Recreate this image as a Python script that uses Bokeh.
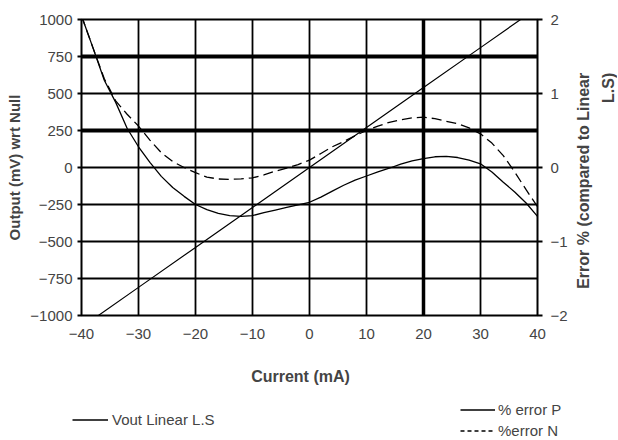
import math
from bokeh.plotting import figure
from bokeh.layouts import row, column
from bokeh.models import (Range1d, LinearAxis, FixedTicker, Span, Label, Legend, LegendItem)
from bokeh.embed import file_html
from bokeh.resources import INLINE

# ---- data ----
current_ma = [-40, -30, -20, -10, 0, 10, 20, 30, 40]
vout_mv = [-1080, -810, -540, -270, 0, 270, 540, 810, 1080]

err_x = [-40, -38, -36, -34, -32, -30, -28, -26, -24, -22, -20, -18, -16, -14, -12, -10,
         -8, -6, -4, -2, 0, 2, 4, 6, 8, 10, 12, 14, 16, 18, 20, 22, 24, 26, 28, 30,
         32, 34, 36, 38, 40]
err_p = [2.05, 1.62, 1.18, 0.88, 0.53, 0.28, 0.07, -0.12, -0.27, -0.39, -0.50, -0.57,
         -0.62, -0.65, -0.66, -0.65, -0.61, -0.575, -0.54, -0.505, -0.47, -0.40, -0.32,
         -0.24, -0.17, -0.115, -0.06, -0.01, 0.045, 0.09, 0.12, 0.145, 0.15, 0.135, 0.10,
         0.05, -0.06, -0.20, -0.33, -0.48, -0.66]
err_n = [2.05, 1.62, 1.20, 0.90, 0.72, 0.56, 0.37, 0.20, 0.08, 0.00, -0.07, -0.13,
         -0.155, -0.16, -0.155, -0.14, -0.10, -0.05, -0.01, 0.04, 0.10, 0.19, 0.28, 0.35,
         0.43, 0.50, 0.56, 0.61, 0.645, 0.67, 0.68, 0.66, 0.625, 0.59, 0.535, 0.455, 0.33,
         0.16, -0.06, -0.30, -0.53]

left_ticks = [-1000, -750, -500, -250, 0, 250, 500, 750, 1000]
bottom_ticks = [-40, -30, -20, -10, 0, 10, 20, 30, 40]
right_ticks = [-2, -1, 0, 1, 2]
thick_h = [750, 250]
thick_v = [20]

FONT = "Liberation Sans"
TICK_FS = "15px"

# ---------------- main chart ----------------
p = figure(width=570, height=350, x_range=Range1d(-40, 40), y_range=Range1d(-1000, 1000),
           output_backend="svg", toolbar_location=None, title=None,
           min_border_left=81, min_border_right=31, min_border_top=19, min_border_bottom=35)
p.extra_y_ranges = {"err": Range1d(-2, 2)}
p.background_fill_color = "white"
p.border_fill_color = "white"
p.outline_line_color = "black"
p.outline_line_width = 2

p.xaxis.ticker = FixedTicker(ticks=bottom_ticks)
p.yaxis.ticker = FixedTicker(ticks=left_ticks)
p.xgrid.grid_line_color = "black"
p.xgrid.grid_line_width = 1.8
p.ygrid.grid_line_color = "black"
p.ygrid.grid_line_width = 1.8
for loc in thick_h:
    p.add_layout(Span(location=loc, dimension="width", line_color="black", line_width=4))
for loc in thick_v:
    p.add_layout(Span(location=loc, dimension="height", line_color="black", line_width=3.5))

xa = p.xaxis[0]
xa.major_tick_out = 0
xa.major_tick_in = 0
xa.minor_tick_out = 0
xa.minor_tick_in = 0
xa.major_label_standoff = 13
xa.major_label_text_font = FONT
xa.major_label_text_font_size = TICK_FS
xa.axis_line_color = None

ya = p.yaxis[0]
ya.axis_label = "Output (mV) wrt Null"
ya.axis_label_text_font = FONT
ya.axis_label_text_font_size = "15px"
ya.axis_label_text_font_style = "bold"
ya.axis_label_standoff = 4
ya.major_tick_out = 4
ya.major_tick_in = 0
ya.major_tick_line_width = 1.8
ya.minor_tick_out = 0
ya.minor_tick_in = 0
ya.major_label_standoff = 5
ya.major_label_text_font = FONT
ya.major_label_text_font_size = TICK_FS
ya.axis_line_color = None

ra = LinearAxis(y_range_name="err", ticker=FixedTicker(ticks=right_ticks))
ra.major_tick_out = 5
ra.major_tick_in = 0
ra.major_tick_line_width = 1.8
ra.minor_tick_out = 0
ra.minor_tick_in = 0
ra.major_label_standoff = 8
ra.major_label_text_font = FONT
ra.major_label_text_font_size = TICK_FS
ra.axis_line_color = None
p.add_layout(ra, "right")

r_vout = p.line(current_ma, vout_mv, line_color="black", line_width=1.2)
r_p = p.line(err_x, err_p, y_range_name="err", line_color="black", line_width=1.3)
r_n = p.line(err_x, err_n, y_range_name="err", line_color="black", line_width=1.3,
             line_dash="10 5")

# ---------------- right-side axis title ----------------
side = figure(width=47, height=350, x_range=Range1d(0, 47), y_range=Range1d(0, 350),
              output_backend="svg", toolbar_location=None, title=None,
              x_axis_type=None, y_axis_type=None, min_border=0)
side.outline_line_color = None
side.add_layout(Label(x=13, y=287, text="Error % (compared to Linear",
                      angle=math.pi / 2, text_align="right", text_baseline="middle",
                      text_font=FONT, text_font_size="16px", text_font_style="bold"))
side.add_layout(Label(x=38, y=287, text="L.S)",
                      angle=math.pi / 2, text_align="right", text_baseline="middle",
                      text_font=FONT, text_font_size="16px", text_font_style="bold"))

# ---------------- bottom: x title + legends ----------------
bot = figure(width=617, height=90, x_range=Range1d(0, 617), y_range=Range1d(0, 90),
             output_backend="svg", toolbar_location=None, title=None,
             x_axis_type=None, y_axis_type=None, min_border=0)
bot.outline_line_color = None
bot.add_layout(Label(x=300, y=64, text="Current (mA)", text_align="center",
                     text_baseline="middle", text_font=FONT, text_font_size="16px",
                     text_font_style="bold"))
# legend-only renderers: their single point lies outside the visible range
s_vout = bot.line([-20, -10], [-20, -20], line_color="black", line_width=1.6)
s_p = bot.line([-20, -10], [-20, -20], line_color="black", line_width=1.6)
s_n = bot.line([-20, -10], [-20, -20], line_color="black", line_width=1.6, line_dash="4 3")

common = dict(glyph_height=17, label_height=17, padding=0, margin=0, spacing=4,
              background_fill_alpha=0, border_line_color=None,
              label_text_font=FONT, label_text_font_size="15px")
leg1 = Legend(items=[LegendItem(label="Vout Linear L.S", renderers=[s_vout])],
              location=(72, 12), glyph_width=36, label_standoff=4, **common)
leg2 = Legend(items=[LegendItem(label="% error P", renderers=[s_p]),
                     LegendItem(label="%error N", renderers=[s_n])],
              location=(460, 1), glyph_width=35, label_standoff=3, **common)
bot.add_layout(leg1)
bot.add_layout(leg2)

layout = column(row(p, side), bot)
open("out.html", "w").write(file_html(layout, INLINE))
